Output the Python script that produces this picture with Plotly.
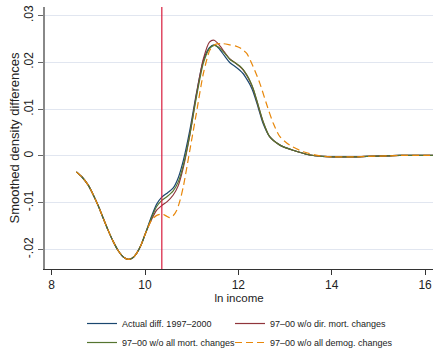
import plotly.graph_objects as go

# ---- data ----
x_common = [8.53, 8.65, 8.78, 8.9, 9.0, 9.1, 9.21, 9.32, 9.43, 9.55, 9.64, 9.73, 9.82, 9.92, 10.0]
y_common = [-0.0034, -0.0045, -0.0062, -0.0085, -0.0107, -0.0132, -0.0159, -0.0183, -0.0203, -0.0217,
            -0.0221, -0.0218, -0.0208, -0.0189, -0.0168]

x_tail = [12.67, 12.89, 13.17, 13.53, 13.8, 14.03, 14.5, 14.75, 15.2, 15.46, 16.3]
y_tail = [0.0041, 0.0023, 0.0012, 0.0002, -0.0001, -0.0002, -0.0002, -0.0001, 0.0, 0.0001, 0.0001]

x_mid = [10.14, 10.25, 10.36, 10.48, 10.60, 10.71, 10.82, 10.96, 11.10, 11.25, 11.38, 11.48,
         11.58, 11.70, 11.82, 11.93, 12.03, 12.10, 12.18, 12.25, 12.32, 12.42, 12.53]
actual_mid = [-0.0129, -0.0103, -0.0088, -0.0079, -0.0069, -0.0047, -0.0010, 0.0055, 0.0133, 0.0204,
              0.0231, 0.0237, 0.0230, 0.0214, 0.0199, 0.0191, 0.0183, 0.0176, 0.0164, 0.0152,
              0.0136, 0.0105, 0.0069]
allmort_mid = [-0.0132, -0.0108, -0.0095, -0.0086, -0.0075, -0.0056, -0.0020, 0.0045, 0.0125, 0.0198,
               0.0229, 0.0236, 0.0232, 0.0220, 0.0206, 0.0199, 0.0192, 0.0185, 0.0173, 0.0160,
               0.0143, 0.0110, 0.0073]
dirmort_mid = [-0.0136, -0.0116, -0.0106, -0.0097, -0.0084, -0.0064, -0.0025, 0.0045, 0.0130, 0.0207,
               0.0243, 0.0247, 0.0238, 0.0222, 0.0207, 0.0199, 0.0191, 0.0184, 0.0172, 0.0159,
               0.0142, 0.0109, 0.0073]

x_demog = [10.14, 10.25, 10.36, 10.45, 10.53, 10.60, 10.68, 10.75, 10.82, 10.96, 11.10, 11.25,
           11.39, 11.50, 11.64, 11.82, 11.96, 12.03, 12.10, 12.18, 12.32, 12.46, 12.60, 12.75,
           12.89, 13.10, 13.39, 13.75]
y_demog = [-0.0137, -0.0127, -0.0124, -0.0128, -0.0132, -0.0128, -0.0116, -0.0095, -0.0066, 0.0012,
           0.0091, 0.0176, 0.0226, 0.0238, 0.0240, 0.0237, 0.0234, 0.0231, 0.0226, 0.0219,
           0.0190, 0.0155, 0.0112, 0.0069, 0.0041, 0.0023, 0.0009, 0.0000]
x_demog_tail = [14.03, 14.5, 14.75, 15.2, 15.46, 16.3]
y_demog_tail = [-0.0002, -0.0002, -0.0001, 0.0, 0.0001, 0.0001]

cutoff = 10.36

series_names = ["Actual diff. 1997–2000", "97–00 w/o dir. mort. changes",
                "97–00 w/o all mort. changes", "97–00 w/o all demog. changes"]
series_colors = ["#1a476f", "#90353b", "#55752f", "#e8870a"]

y_tickvals = [-0.02, -0.01, 0, 0.01, 0.02, 0.03]
y_ticktext = ["-.02", "-.01", "0", ".01", ".02", ".03"]
x_tickvals = [8, 10, 12, 14, 16]

# ---- figure ----
fig = go.Figure()

series = [
    (x_common + x_mid + x_tail, y_common + actual_mid + y_tail, "solid", "legend"),
    (x_common + x_mid + x_tail, y_common + dirmort_mid + y_tail, "solid", "legend2"),
    (x_common + x_mid + x_tail, y_common + allmort_mid + y_tail, "solid", "legend"),
    (x_common + x_demog + x_demog_tail, y_common + y_demog + y_demog_tail, "7px,4px", "legend2"),
]
for i in range(4):
    xs, ys, dash, lg = series[i]
    fig.add_trace(go.Scatter(
        x=xs, y=ys, mode="lines", name=series_names[i], legend=lg,
        line=dict(color=series_colors[i], width=1.2, dash=dash, shape="spline", smoothing=0.7),
    ))

fig.add_vline(x=cutoff, line=dict(color="#d81b3c", width=1.2))

fig.update_layout(
    width=433, height=354,
    margin=dict(l=45, r=0, t=7, b=85, autoexpand=False),
    paper_bgcolor="white", plot_bgcolor="white",
    font=dict(family="Liberation Sans, Arial, sans-serif", size=12, color="#222"),
    showlegend=True,
    legend=dict(x=0.0954, y=-0.1527, xanchor="left", yanchor="top", orientation="v",
                font=dict(size=9), tracegroupgap=0, itemwidth=30, bgcolor="rgba(0,0,0,0)"),
    legend2=dict(x=0.4768, y=-0.1527, xanchor="left", yanchor="top", orientation="v",
                 font=dict(size=9), tracegroupgap=0, itemwidth=30, bgcolor="rgba(0,0,0,0)"),
)

fig.update_xaxes(
    range=[7.857, 16.17], tickvals=x_tickvals, ticks="outside", ticklen=5, tickcolor="#333",
    showline=True, linecolor="#333", linewidth=1, showgrid=False, zeroline=False,
    title=dict(text="ln income", font=dict(size=11.5), standoff=2),
    tickfont=dict(size=12),
)
fig.update_yaxes(
    range=[-0.02415, 0.0318], tickvals=y_tickvals, ticktext=y_ticktext, tickangle=-90,
    ticks="outside", ticklen=5, tickcolor="#666",
    showline=True, linecolor="#888", linewidth=1.5,
    showgrid=True, gridcolor="#e1e6f0", gridwidth=1, zeroline=False,
    title=dict(text="Smoothed density differences", font=dict(size=13), standoff=0),
    tickfont=dict(size=12),
)

fig.write_html("out.html")
